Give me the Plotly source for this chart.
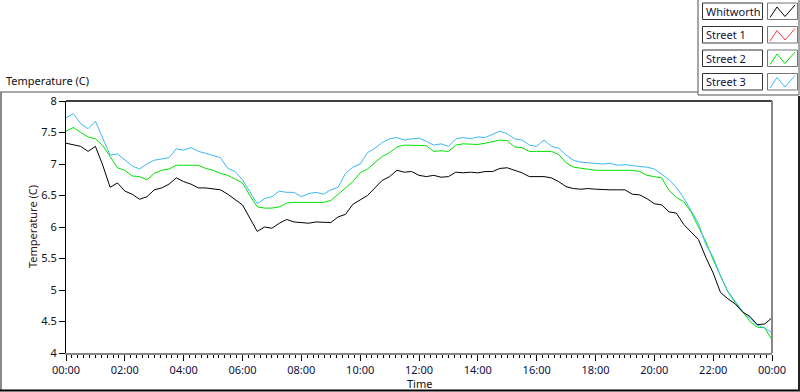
import plotly.graph_objects as go
import pandas as pd

# ---------------- data (15-minute samples) ----------------
series_names = ["Whitworth", "Street 1", "Street 2", "Street 3"]
series_colors = ["#000000", "#ff3b3b", "#00e000", "#3db8f5"]

whitworth = [7.33, 7.30, 7.28, 7.20, 7.28, 6.98, 6.63, 6.70, 6.57, 6.52, 6.44, 6.48,
             6.59, 6.62, 6.68, 6.78, 6.72, 6.68, 6.62, 6.62, 6.61, 6.59, 6.52, 6.44,
             6.35, 6.14, 5.93, 6.00, 5.98, 6.06, 6.12, 6.08, 6.07, 6.06, 6.08, 6.07,
             6.07, 6.16, 6.20, 6.36, 6.43, 6.50, 6.62, 6.74, 6.80, 6.90, 6.87, 6.88,
             6.82, 6.80, 6.82, 6.79, 6.80, 6.87, 6.86, 6.87, 6.86, 6.88, 6.88, 6.93,
             6.94, 6.90, 6.86, 6.80, 6.80, 6.80, 6.78, 6.72, 6.64, 6.61, 6.60, 6.61,
             6.60, 6.59, 6.59, 6.59, 6.59, 6.52, 6.51, 6.45, 6.37, 6.35, 6.24, 6.22,
             6.04, 5.92, 5.80, 5.52, 5.27, 4.96, 4.86, 4.78, 4.65, 4.58, 4.45, 4.46,
             4.56]
street1 = []  # no visible data in the chart
street2 = [7.52, 7.58, 7.50, 7.43, 7.40, 7.29, 7.12, 6.94, 6.90, 6.81, 6.80, 6.75,
           6.85, 6.90, 6.92, 6.98, 6.98, 6.98, 6.98, 6.93, 6.90, 6.85, 6.82, 6.76,
           6.70, 6.50, 6.32, 6.30, 6.30, 6.32, 6.38, 6.39, 6.39, 6.39, 6.38, 6.39,
           6.42, 6.52, 6.62, 6.72, 6.86, 6.92, 7.02, 7.12, 7.18, 7.27, 7.30, 7.30,
           7.30, 7.29, 7.20, 7.21, 7.20, 7.30, 7.32, 7.31, 7.31, 7.33, 7.36, 7.38,
           7.37, 7.27, 7.26, 7.20, 7.20, 7.20, 7.20, 7.15, 7.02, 6.95, 6.93, 6.92,
           6.90, 6.90, 6.90, 6.90, 6.90, 6.90, 6.88, 6.82, 6.80, 6.78, 6.58, 6.47,
           6.40, 6.24, 6.00, 5.77, 5.48, 5.22, 4.97, 4.80, 4.66, 4.50, 4.41, 4.40,
           4.21]
street3 = [7.73, 7.80, 7.64, 7.56, 7.68, 7.42, 7.14, 7.16, 7.06, 6.97, 6.92, 7.00,
           7.06, 7.08, 7.10, 7.24, 7.22, 7.26, 7.20, 7.17, 7.13, 7.10, 6.93, 6.88,
           6.75, 6.55, 6.37, 6.45, 6.48, 6.57, 6.55, 6.55, 6.48, 6.53, 6.55, 6.52,
           6.59, 6.63, 6.85, 6.95, 7.00, 7.18, 7.25, 7.34, 7.40, 7.42, 7.38, 7.40,
           7.41, 7.36, 7.30, 7.32, 7.28, 7.40, 7.42, 7.40, 7.43, 7.42, 7.47, 7.52,
           7.48, 7.40, 7.38, 7.30, 7.28, 7.38, 7.28, 7.25, 7.14, 7.06, 7.03, 7.02,
           7.00, 7.00, 7.01, 6.98, 6.99, 6.97, 6.96, 6.95, 6.92, 6.84, 6.75, 6.63,
           6.46, 6.26, 6.06, 5.72, 5.52, 5.22, 4.98, 4.82, 4.66, 4.55, 4.44, 4.40,
           4.32]

times = pd.date_range("2000-01-01 00:00", "2000-01-02 00:00", freq="15min")
x_start, x_end = times[0], times[-1]
y_range = [4, 8]

# ---------------- figure ----------------
W, H = 800, 392
def px(x):
    return x / W
def py(y):
    return 1 - y / H

FONT = "Noto Sans"
FS = 11
fig = go.Figure()
draw_order = [2, 3, 1, 0]  # black drawn on top
all_vals = [whitworth, street1, street2, street3]
for i in draw_order:
    vals = all_vals[i]
    fig.add_trace(go.Scatter(
        x=list(times[:len(vals)]), y=vals, mode="lines", name=series_names[i],
        line=dict(color=series_colors[i], width=1),
        showlegend=False, hoverinfo="skip"))

plot_l, plot_r, plot_t, plot_b = 66, 772, 101, 353

fig.update_layout(
    width=W, height=H, autosize=False,
    margin=dict(l=0, r=0, t=0, b=0),
    paper_bgcolor="white", plot_bgcolor="white",
    font=dict(family=FONT, size=FS, color="#101030"),
    xaxis=dict(
        domain=[px(plot_l), px(plot_r)], automargin=False,
        type="date", range=[x_start, x_end],
        tickformat="%H:%M", dtick=2 * 3600 * 1000, tick0=x_start,
        ticks="outside", ticklen=6, tickcolor="black", tickwidth=1,
        showgrid=False, zeroline=False,
        showline=True, linecolor="#888888", linewidth=2,
        tickfont=dict(family=FONT, size=FS, color="#101040"),
        minor=dict(dtick=12 * 60 * 1000, ticks="outside", ticklen=3, tickcolor="black", showgrid=False),
    ),
    yaxis=dict(
        domain=[py(plot_b), py(plot_t)], automargin=False,
        range=y_range, dtick=0.5, tick0=4,
        ticks="outside", ticklen=6, tickcolor="black",
        showgrid=False, zeroline=False,
        showline=True, linecolor="black", linewidth=1,
        tickfont=dict(family=FONT, size=FS, color="#111111"),
    ),
)

shapes = []
# plot area top (black) and right (gray) borders
shapes.append(dict(type="line", xref="paper", yref="paper", x0=px(plot_l), x1=px(plot_r), y0=py(plot_t), y1=py(plot_t),
                   line=dict(color="black", width=1.5)))
shapes.append(dict(type="line", xref="paper", yref="paper", x0=px(plot_r), x1=px(plot_r), y0=py(plot_t), y1=py(plot_b),
                   line=dict(color="#888888", width=2)))
# outer frame
frame_gray = "#8a8a8a"
shapes.append(dict(type="line", xref="paper", yref="paper", x0=0, x1=px(698), y0=py(92), y1=py(92), line=dict(color=frame_gray, width=1.5)))
shapes.append(dict(type="line", xref="paper", yref="paper", x0=px(1), x1=px(1), y0=py(92), y1=py(391), line=dict(color=frame_gray, width=2)))
shapes.append(dict(type="line", xref="paper", yref="paper", x0=0, x1=1, y0=py(390.5), y1=py(390.5), line=dict(color="black", width=2)))
shapes.append(dict(type="line", xref="paper", yref="paper", x0=px(799), x1=px(799), y0=py(96), y1=py(391), line=dict(color="#222222", width=2)))
# legend panel
shapes.append(dict(type="line", xref="paper", yref="paper", x0=px(698), x1=px(698), y0=py(0), y1=py(95), line=dict(color=frame_gray, width=1.5)))
shapes.append(dict(type="line", xref="paper", yref="paper", x0=px(698), x1=px(799), y0=py(95), y1=py(95), line=dict(color=frame_gray, width=1.5)))
shapes.append(dict(type="line", xref="paper", yref="paper", x0=px(799), x1=px(799), y0=py(0), y1=py(95), line=dict(color=frame_gray, width=1.5)))

annotations = []
row_h = 23.5
for i, (name, color) in enumerate(zip(series_names, series_colors)):
    top = 3 + i * row_h
    bot = top + 16.5
    shapes.append(dict(type="rect", xref="paper", yref="paper", x0=px(702.5), x1=px(762.5), y0=py(bot), y1=py(top),
                       line=dict(color="#333333", width=1), fillcolor="white"))
    shapes.append(dict(type="rect", xref="paper", yref="paper", x0=px(767.5), x1=px(797.5), y0=py(bot), y1=py(top),
                       line=dict(color="#777777", width=1), fillcolor="white"))
    pts = [(770, bot - 2), (777, top + 4), (785, bot - 3), (795, top + 2)]
    path = "M " + " L ".join(f"{px(a)},{py(b)}" for a, b in pts)
    shapes.append(dict(type="path", xref="paper", yref="paper", path=path, line=dict(color=color, width=1)))
    annotations.append(dict(xref="paper", yref="paper", x=px(704), y=py((top + bot) / 2), text=name,
                            showarrow=False, xanchor="left", yanchor="middle",
                            font=dict(family=FONT, size=FS, color="#101040")))

annotations.append(dict(xref="paper", yref="paper", x=px(4), y=py(80), text="Temperature (C)", showarrow=False,
                        xanchor="left", yanchor="middle", font=dict(family=FONT, size=FS, color="#111111")))
annotations.append(dict(xref="paper", yref="paper", x=px(32), y=py((plot_t + plot_b) / 2), text="Temperature (C)",
                        showarrow=False, textangle=-90, xanchor="center", yanchor="middle",
                        font=dict(family=FONT, size=FS, color="#3a1010")))
annotations.append(dict(xref="paper", yref="paper", x=px((plot_l + plot_r) / 2), y=py(383), text="Time",
                        showarrow=False, xanchor="center", yanchor="middle",
                        font=dict(family=FONT, size=FS, color="#111111")))

fig.update_layout(shapes=shapes, annotations=annotations)
fig.write_html("out.html", config={"displayModeBar": False},
               post_script="document.body.style.margin='0';document.body.style.overflow='hidden';")
